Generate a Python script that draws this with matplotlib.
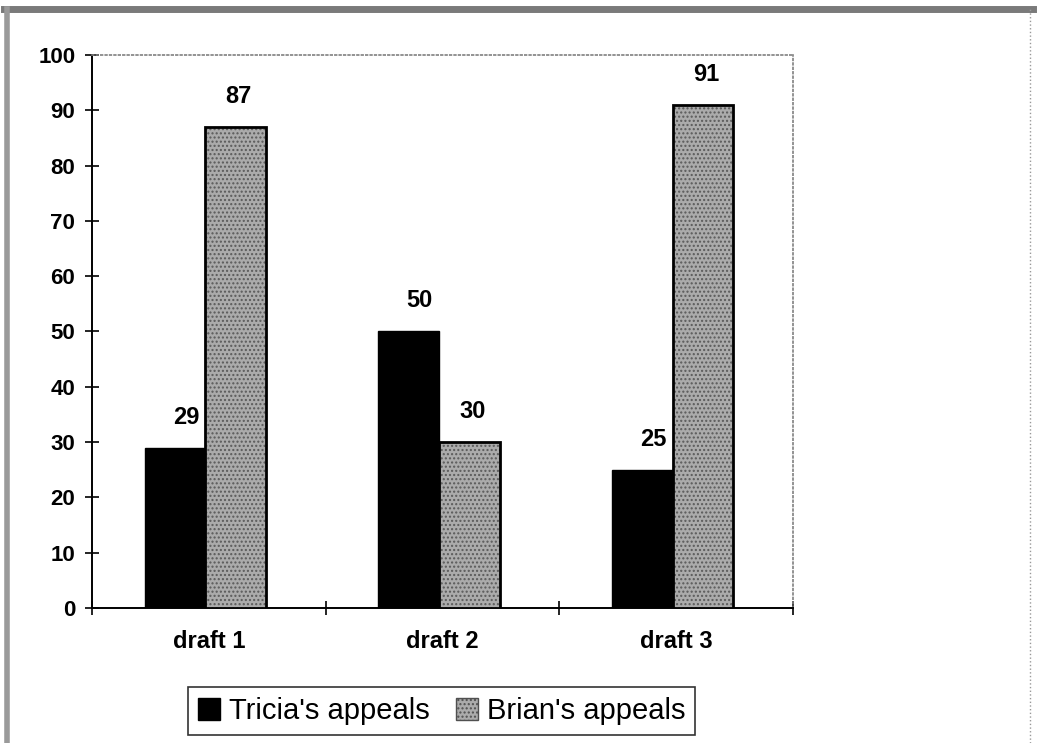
import numpy as np
import matplotlib.pyplot as plt
from matplotlib.lines import Line2D
from matplotlib.patches import Patch

# data
drafts = ["draft 1", "draft 2", "draft 3"]
tricia = [29, 50, 25]
brian = [87, 30, 91]
series_names = ["Tricia's appeals", "Brian's appeals"]
yticks = list(range(0, 101, 10))

plt.rcParams['font.family'] = ['Liberation Sans', 'DejaVu Sans']

fig = plt.figure(figsize=(10.37, 7.43), dpi=100)
ax = fig.add_axes([0.0887, 0.1817, 0.676, 0.7443])

x = np.arange(len(drafts))
w = 0.26
gray = '#ababab'

ax.bar(x - w / 2 - 0.015, tricia, w, color='black', edgecolor='black', linewidth=1, zorder=3)
# stippled gray fill, then a black outline on top
ax.bar(x + w / 2 - 0.015, brian, w, color=gray, edgecolor='#5a5a5a', hatch='....', linewidth=0, zorder=3)
ax.bar(x + w / 2 - 0.015, brian, w, fill=False, edgecolor='black', linewidth=2, zorder=4)

for xi, v in zip(x, tricia):
    ax.annotate(str(v), (xi - w / 2 - 0.015, v), xytext=(8, 22), textcoords='offset points',
                ha='center', va='center', fontsize=17, fontweight='bold')
for xi, v in zip(x, brian):
    ax.annotate(str(v), (xi + w / 2 - 0.015, v), xytext=(2, 22), textcoords='offset points',
                ha='center', va='center', fontsize=17, fontweight='bold')

ax.set_xlim(-0.5, 2.5)
ax.set_ylim(0, 100)
ax.set_yticks(yticks)
ax.set_xticks(x)
ax.set_xticklabels(drafts)
ax.set_xticks([-0.5, 0.5, 1.5, 2.5], minor=True)
ax.tick_params(axis='x', which='major', length=0, pad=16, labelsize=17)
ax.tick_params(axis='x', which='minor', direction='inout', length=10, width=1.2)
ax.tick_params(axis='y', direction='inout', length=10, width=1.2, pad=7, labelsize=16)
for lab in ax.get_xticklabels() + ax.get_yticklabels():
    lab.set_fontweight('bold')

for s in ['left', 'bottom']:
    ax.spines[s].set_linewidth(1.4)
    ax.spines[s].set_color('black')
for s in ['top', 'right']:
    ax.spines[s].set_linestyle(':')
    ax.spines[s].set_color('#808080')
    ax.spines[s].set_linewidth(1.2)

handles = [Patch(facecolor='black', edgecolor='black'),
           Patch(facecolor=gray, edgecolor='#505050', hatch='....')]
leg = fig.legend(handles, series_names, loc='center', bbox_to_anchor=(0.426, 0.043),
                 ncol=2, fontsize=21, frameon=True, fancybox=False, shadow=False,
                 handlelength=0.75, handleheight=0.75, handletextpad=0.3,
                 columnspacing=0.9, borderpad=0.35)
leg.get_frame().set_edgecolor('black')
leg.get_frame().set_linewidth(1.2)

# outer frame of the scanned chart
fig.add_artist(Line2D([0.004, 0.996], [0.988, 0.988], color='#7a7a7a', lw=5,
                      transform=fig.transFigure))
fig.add_artist(Line2D([0.007, 0.007], [0.0, 0.988], color='#9a9a9a', lw=4,
                      transform=fig.transFigure))
fig.add_artist(Line2D([0.993, 0.993], [0.0, 0.988], color='#999999', lw=1,
                      linestyle=':', transform=fig.transFigure))

fig.savefig('out.png', dpi=100)
